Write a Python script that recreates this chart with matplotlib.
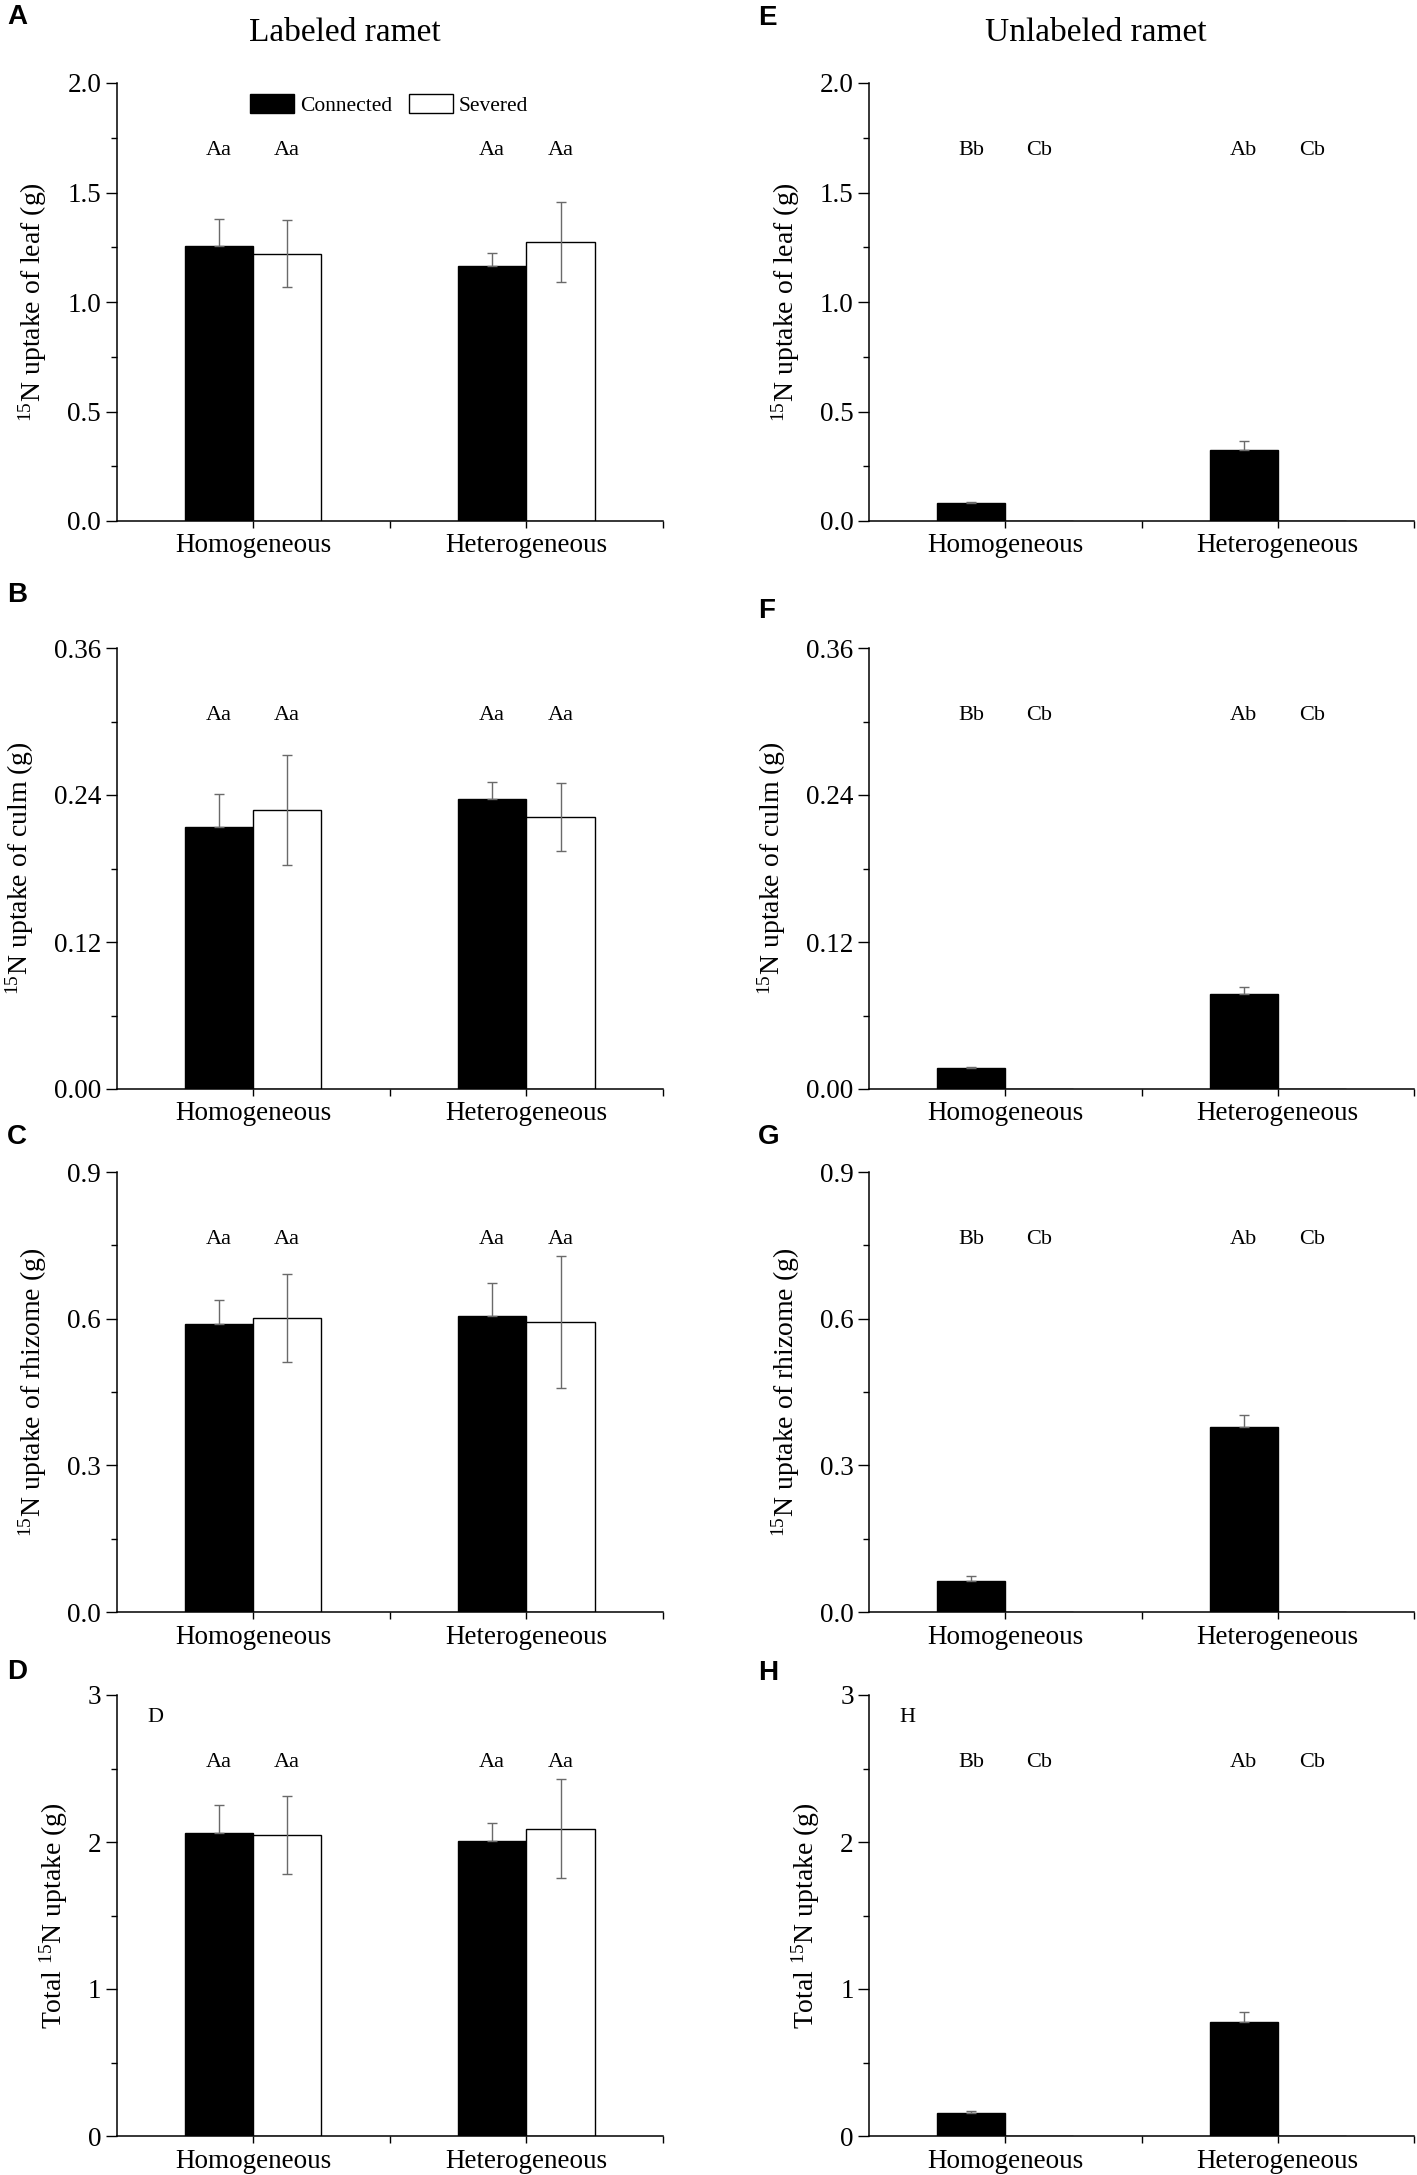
import matplotlib
matplotlib.use("Agg")
import matplotlib.pyplot as plt
from matplotlib.ticker import FormatStrFormatter, FixedLocator, MultipleLocator
from matplotlib.patches import Patch

plt.rcParams['font.family'] = ['Liberation Serif', 'DejaVu Serif']
plt.rcParams['mathtext.fontset'] = 'custom'
plt.rcParams['mathtext.rm'] = 'Liberation Serif'
plt.rcParams['mathtext.it'] = 'Liberation Serif:italic'

categories = ["Homogeneous", "Heterogeneous"]
series_names = ["Connected", "Severed"]

# Labeled ramet (left column)
leaf_lab_conn = [1.256, 1.166]
leaf_lab_conn_err = [0.123, 0.057]
leaf_lab_sev = [1.220, 1.275]
leaf_lab_sev_err = [0.153, 0.182]

culm_lab_conn = [0.214, 0.2366]
culm_lab_conn_err = [0.027, 0.014]
culm_lab_sev = [0.2276, 0.2222]
culm_lab_sev_err = [0.045, 0.028]

rhiz_lab_conn = [0.589, 0.606]
rhiz_lab_conn_err = [0.049, 0.066]
rhiz_lab_sev = [0.602, 0.594]
rhiz_lab_sev_err = [0.090, 0.135]

tot_lab_conn = [2.059, 2.008]
tot_lab_conn_err = [0.195, 0.123]
tot_lab_sev = [2.049, 2.091]
tot_lab_sev_err = [0.266, 0.335]

# Unlabeled ramet (right column)
leaf_unl_conn = [0.081, 0.322]
leaf_unl_conn_err = [0.005, 0.045]
leaf_unl_sev = [0.0, 0.0]
leaf_unl_sev_err = [0.0, 0.0]

culm_unl_conn = [0.0175, 0.0774]
culm_unl_conn_err = [0.0008, 0.006]
culm_unl_sev = [0.0, 0.0]
culm_unl_sev_err = [0.0, 0.0]

rhiz_unl_conn = [0.0628, 0.378]
rhiz_unl_conn_err = [0.011, 0.024]
rhiz_unl_sev = [0.0, 0.0]
rhiz_unl_sev_err = [0.0, 0.0]

tot_unl_conn = [0.158, 0.776]
tot_unl_conn_err = [0.010, 0.065]
tot_unl_sev = [0.0, 0.0]
tot_unl_sev_err = [0.0, 0.0]

letters_lab = [["Aa", "Aa"], ["Aa", "Aa"]]
letters_unl = [["Bb", "Cb"], ["Ab", "Cb"]]

ylabels = [r"$^{\mathrm{15}}$N uptake of leaf (g)",
           r"$^{\mathrm{15}}$N uptake of culm (g)",
           r"$^{\mathrm{15}}$N uptake of rhizome (g)",
           r"Total $^{\mathrm{15}}$N uptake (g)"]
ymax = [2.0, 0.36, 0.9, 3.0]
ymajor = [0.5, 0.12, 0.3, 1.0]
yfmt = ["%.1f", "%.2f", "%.1f", "%.0f"]

left_data = [
    (leaf_lab_conn, leaf_lab_conn_err, leaf_lab_sev, leaf_lab_sev_err),
    (culm_lab_conn, culm_lab_conn_err, culm_lab_sev, culm_lab_sev_err),
    (rhiz_lab_conn, rhiz_lab_conn_err, rhiz_lab_sev, rhiz_lab_sev_err),
    (tot_lab_conn, tot_lab_conn_err, tot_lab_sev, tot_lab_sev_err),
]
right_data = [
    (leaf_unl_conn, leaf_unl_conn_err, leaf_unl_sev, leaf_unl_sev_err),
    (culm_unl_conn, culm_unl_conn_err, culm_unl_sev, culm_unl_sev_err),
    (rhiz_unl_conn, rhiz_unl_conn_err, rhiz_unl_sev, rhiz_unl_sev_err),
    (tot_unl_conn, tot_unl_conn_err, tot_unl_sev, tot_unl_sev_err),
]

W, H = 1417, 2175
fig = plt.figure(figsize=(W / 100, H / 100), dpi=100)

col_x = [116.5, 869]
col_w = [546.5, 545]
row_top = [83, 648, 1172, 1695]
row_h = [438, 441, 440, 441]

panel_letters = [["A", "B", "C", "D"], ["E", "F", "G", "H"]]
letter_pos = [[(7, 4), (7, 582), (7, 1124), (7, 1659)],
              [(758, 5), (758, 598), (758, 1124), (758, 1660)]]

bw = 0.25
xpos = [1, 2]
grey = "#6a6a6a"

for col in range(2):
    datasets = left_data if col == 0 else right_data
    letters = letters_lab if col == 0 else letters_unl
    for row in range(4):
        x0 = col_x[col] / W
        y0 = 1 - (row_top[row] + row_h[row]) / H
        ax = fig.add_axes([x0, y0, col_w[col] / W, row_h[row] / H])
        conn, conn_err, sev, sev_err = datasets[row]
        xc = [x - bw / 2 for x in xpos]
        xs = [x + bw / 2 for x in xpos]
        ax.bar(xc, conn, width=bw, color="black", edgecolor="black", linewidth=1.0, zorder=2)
        ax.bar(xs, sev, width=bw, color="white", edgecolor="black", linewidth=1.0, zorder=2)
        ax.errorbar(xc, conn, yerr=[[0] * len(conn), conn_err], fmt="none",
                    ecolor=grey, elinewidth=1.0, capsize=3.5, capthick=1.0, zorder=3)
        sev_x = [x for x, v in zip(xs, sev) if v > 0]
        sev_v = [v for v in sev if v > 0]
        sev_e = [e for e, v in zip(sev_err, sev) if v > 0]
        if sev_v:
            ax.errorbar(sev_x, sev_v, yerr=sev_e, fmt="none",
                        ecolor=grey, elinewidth=1.0, capsize=3.5, capthick=1.0, zorder=3)
        for i in range(2):
            ax.text(xc[i], 0.836, letters[i][0], transform=ax.get_xaxis_transform(),
                    ha="center", va="baseline", fontsize=16)
            ax.text(xs[i], 0.836, letters[i][1], transform=ax.get_xaxis_transform(),
                    ha="center", va="baseline", fontsize=16)

        ax.set_xlim(0.5, 2.5)
        ax.set_ylim(0, ymax[row])
        ax.spines["top"].set_visible(False)
        ax.spines["right"].set_visible(False)
        for s in ["left", "bottom"]:
            ax.spines[s].set_linewidth(1.1)
        ax.xaxis.set_major_locator(FixedLocator([1, 1.5, 2, 2.5]))
        ax.set_xticklabels([categories[0], "", categories[1], ""])
        ax.yaxis.set_major_locator(MultipleLocator(ymajor[row]))
        ax.yaxis.set_minor_locator(MultipleLocator(ymajor[row] / 2))
        ax.yaxis.set_major_formatter(FormatStrFormatter(yfmt[row]))
        ax.tick_params(axis="x", direction="out", length=5, width=1.0, labelsize=19.5, pad=4)
        ax.tick_params(axis="y", which="major", direction="out", length=8, width=1.0,
                       labelsize=19.5, pad=3)
        ax.tick_params(axis="y", which="minor", direction="out", length=4, width=1.0)
        ax.set_ylabel(ylabels[row], fontsize=20, labelpad=13)

        if row == 3:
            ax.text(0.056, 0.95, "D" if col == 0 else "H", transform=ax.transAxes,
                    ha="left", va="center", fontsize=16)

        if col == 0 and row == 0:
            handles = [Patch(facecolor="black", edgecolor="black", linewidth=1.0),
                       Patch(facecolor="white", edgecolor="black", linewidth=1.0)]
            ax.legend(handles, series_names, loc="upper left", bbox_to_anchor=(0.244, 0.975),
                      ncol=2, frameon=False, fontsize=15.5, borderpad=0, borderaxespad=0,
                      handlelength=2.06, handleheight=1.0, handletextpad=0.26,
                      columnspacing=0.8)

        lx, ly = letter_pos[col][row]
        fig.text(lx / W, 1 - ly / H, panel_letters[col][row], ha="left", va="top",
                 fontsize=20, fontweight="bold", family=["Liberation Sans", "DejaVu Sans"])

fig.text(345 / W, 1 - 33 / H, "Labeled ramet", ha="center", va="center", fontsize=24)
fig.text(1096 / W, 1 - 33 / H, "Unlabeled ramet", ha="center", va="center", fontsize=24)

fig.savefig("out.png", dpi=100)
